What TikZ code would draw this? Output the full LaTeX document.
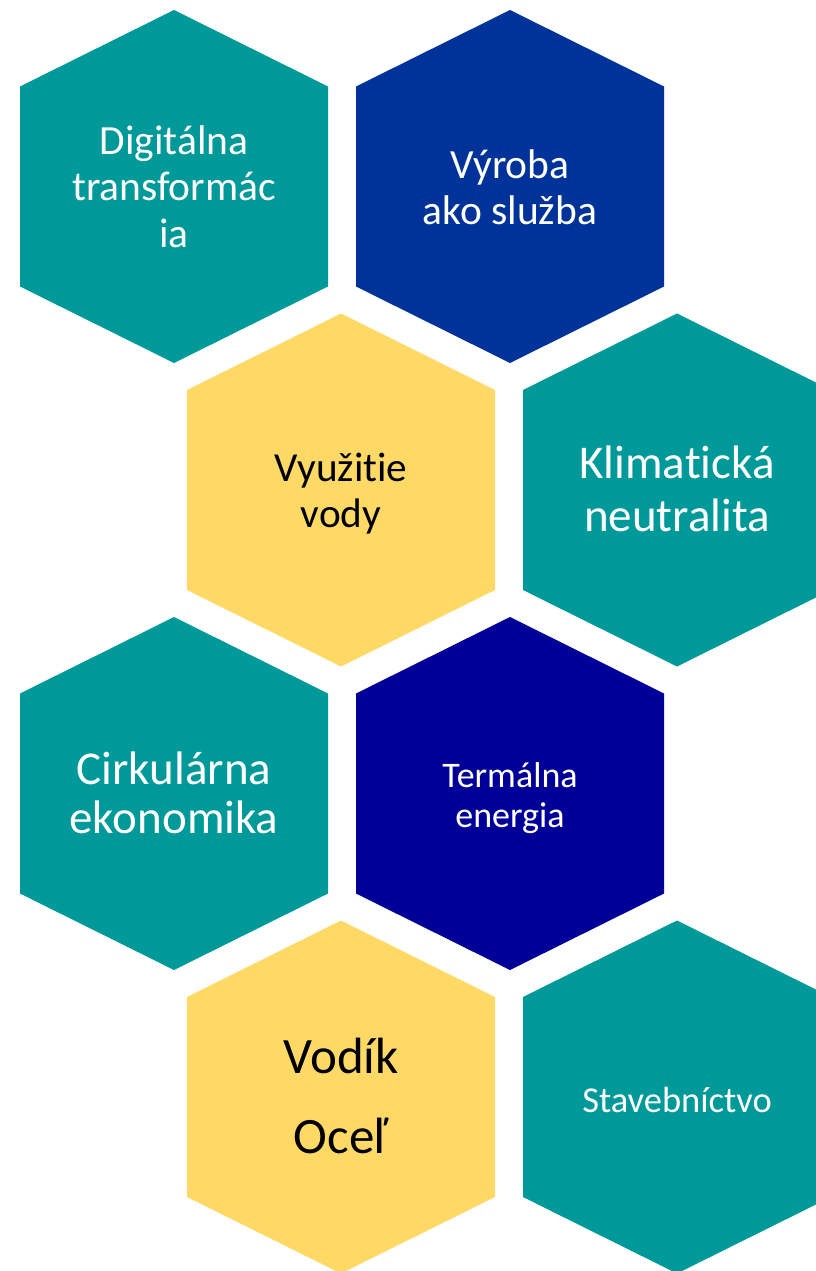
\documentclass[tikz,border=0pt]{standalone}
\usepackage{fontspec}
\setmainfont{Carlito}[Ligatures=NoCommon]
\definecolor{hexteal}{HTML}{009999}
\definecolor{hexblue}{HTML}{003399}
\definecolor{hexnavy}{HTML}{000099}
\definecolor{hexyellow}{HTML}{FFD966}
\tikzset{
  hex/.pic={\fill[pic actions] (0,-176.5) -- (154,-100) -- (154,100) -- (0,176.5) -- (-154,100) -- (-154,-100) -- cycle;},
  hexlabel/.style={align=center,inner sep=0pt,yshift=-7pt,text=white,
    execute at begin node=\strut,execute at end node=\strut},
  darklabel/.style={hexlabel,text=black}
}
\begin{document}
\begin{tikzpicture}[x=1pt,y=-1pt]
  \useasboundingbox (0,0) rectangle (816,1271);
  \clip (0,0) rectangle (816,1271);
  \path (174,186.5) pic[fill=hexteal] {hex}
    node[hexlabel,font=\fontsize{41.5}{46.5}\selectfont] (dig) {Digitálna\\transformác\\ia};
  \path (510,186.5) pic[fill=hexblue] {hex}
    node[hexlabel,font=\fontsize{41.5}{46}\selectfont] (vyr) {Výroba\\ako služba};
  \path (341,490) pic[fill=hexyellow] {hex}
    node[darklabel,font=\fontsize{41.3}{46}\selectfont] (voda) {Využitie\\vody};
  \path (677,490) pic[fill=hexteal] {hex}
    node[hexlabel,font=\fontsize{47}{53}\selectfont] (klima) {Klimatická\\neutralita};
  \path (174,793.5) pic[fill=hexteal] {hex}
    node[hexlabel,font=\fontsize{47}{49}\selectfont] (cirk) {Cirkulárna\\ekonomika};
  \path (510,793.5) pic[fill=hexnavy] {hex}
    node[hexlabel,font=\fontsize{36}{40}\selectfont] (term) {Termálna\\energia};
  \path (341,1097) pic[fill=hexyellow] {hex}
    node[darklabel,font=\fontsize{51}{57}\selectfont] (vodik) {Vodík\\[23pt]Oceľ};
  \path (677,1097) pic[fill=hexteal] {hex}
    node[hexlabel,font=\fontsize{36.5}{41}\selectfont] (stav) {Stavebníctvo};
\end{tikzpicture}
\end{document}
